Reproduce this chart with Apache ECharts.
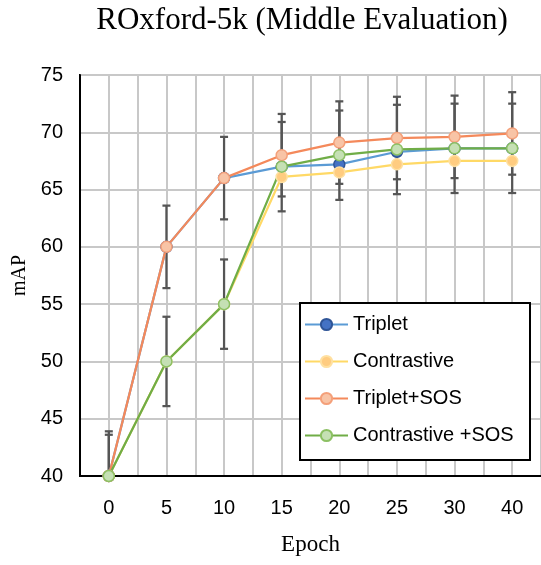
<!DOCTYPE html>
<html>
<head>
<meta charset="utf-8">
<script src="https://cdn.jsdelivr.net/npm/echarts@6/dist/echarts.min.js"></script>
<style>
  html, body { margin: 0; padding: 0; background: #fff; }
  #chart { width: 541px; height: 565px; }
</style>
</head>
<body>
<div id="chart"></div>
<script>
// x categories (epochs)
var epochs = ["0", "5", "10", "15", "20", "25", "30", "40"];

// mAP values
var triplet = [40, 60, 66, 67.0, 67.2, 68.3, 68.6, 68.6];
var contrastive = [40, 50, 55, 66.1, 66.5, 67.2, 67.5, 67.5];
var tripletSOS = [40, 60, 66, 68.0, 69.1, 69.5, 69.6, 69.9];
var contrastiveSOS = [40, 50, 55, 67.0, 68.0, 68.5, 68.6, 68.6];

// error bar half-widths
var tripletSOSErr = [3.6, 3.6, 3.6, 3.6, 3.6, 3.6, 3.6, 3.6];
var contrastiveSOSErr = [3.9, 3.9, 3.9, 3.9, 3.9, 3.9, 3.9, 3.9];

var yTicks = { min: 40, max: 75, step: 5 };

var myChart = echarts.init(document.getElementById("chart"));

function errData(vals, errs) {
  return vals.map(function (v, i) {
    return [i, v - errs[i], v + errs[i]];
  });
}

function renderErr(params, api) {
  var x = api.value(0);
  var top = api.coord([x, api.value(2)]);
  var bot = api.coord([x, api.value(1)]);
  var w = 4;
  var style = { stroke: "#555555", lineWidth: 2.25 };
  return {
    type: "group",
    children: [
      { type: "line", shape: { x1: top[0], y1: top[1], x2: bot[0], y2: bot[1] }, style: style },
      { type: "line", shape: { x1: top[0] - w, y1: top[1], x2: top[0] + w, y2: top[1] }, style: style },
      { type: "line", shape: { x1: bot[0] - w, y1: bot[1], x2: bot[0] + w, y2: bot[1] }, style: style },
    ],
  };
}

function lineSeries(name, data, lineColor, fill, border) {
  return {
    name: name,
    type: "line",
    data: data,
    z: 3,
    symbol: "circle",
    symbolSize: 11,
    lineStyle: { color: lineColor, width: 2.25 },
    itemStyle: { color: fill, borderColor: border, borderWidth: 1.5 },
    emphasis: { disabled: true },
  };
}

var option = {
  animation: false,
  title: {
    text: "ROxford-5k (Middle Evaluation)",
    left: 297,
    textAlign: "center",
    top: 0,
    textStyle: { fontFamily: "Liberation Serif", fontSize: 31, fontWeight: "normal", color: "#000" },
  },
  graphic: [
    {
      type: "rect",
      z: 5,
      shape: { x: 300, y: 303, width: 230, height: 157 },
      style: { fill: "#fff", stroke: "#000", lineWidth: 2 },
    },
  ],
  legend: {
    orient: "vertical",
    left: 304,
    top: 313,
    z: 10,
    padding: 0,
    itemGap: 14,
    itemWidth: 43,
    itemHeight: 14,
    textStyle: { fontFamily: "Liberation Sans", fontSize: 20, lineHeight: 23, color: "#000" },
    data: ["Triplet", "Contrastive", "Triplet+SOS", "Contrastive +SOS"],
  },
  grid: {
    left: 80,
    right: 0,
    top: 75,
    bottom: 89,
    outerBoundsMode: "none",
    show: true,
    borderColor: "#000",
    borderWidth: 2,
  },
  xAxis: [
    {
      type: "category",
      data: epochs,
      name: "Epoch",
      nameLocation: "middle",
      nameGap: 57,
      nameTextStyle: { fontFamily: "Liberation Serif", fontSize: 23, color: "#000" },
      axisLine: { lineStyle: { color: "#000", width: 2 } },
      axisTick: { show: false },
      axisLabel: { fontFamily: "Liberation Sans", fontSize: 20, color: "#000", margin: 22 },
      splitLine: { show: false },
    },
    {
      type: "value",
      min: 0,
      max: 8,
      interval: 0.5,
      show: true,
      axisLine: { show: false },
      axisTick: { show: false },
      axisLabel: { show: false },
      splitLine: { show: true, lineStyle: { color: "#c8c8c8", width: 2 } },
    },
  ],
  yAxis: {
    type: "value",
    min: yTicks.min,
    max: yTicks.max,
    interval: yTicks.step,
    name: "mAP",
    nameLocation: "middle",
    nameGap: 50,
    nameRotate: 90,
    nameTextStyle: { fontFamily: "Liberation Serif", fontSize: 20, color: "#000" },
    axisLine: { show: true, lineStyle: { color: "#000", width: 2 } },
    axisTick: { show: false },
    axisLabel: { fontFamily: "Liberation Sans", fontSize: 20, color: "#000", margin: 17 },
    splitLine: { show: true, lineStyle: { color: "#c8c8c8", width: 2 } },
  },
  series: [
    {
      type: "custom",
      name: "err1",
      renderItem: renderErr,
      data: errData(tripletSOS, tripletSOSErr),
      clip: true,
      z: 2,
      encode: { x: 0, y: [1, 2] },
    },
    {
      type: "custom",
      name: "err2",
      renderItem: renderErr,
      data: errData(contrastiveSOS, contrastiveSOSErr),
      clip: true,
      z: 2,
      encode: { x: 0, y: [1, 2] },
    },
    lineSeries("Triplet", triplet, "#5B9BD5", "#4472C4", "#2F5597"),
    lineSeries("Contrastive", contrastive, "#FFD966", "#FFCC80", "#FFE0A0"),
    lineSeries("Triplet+SOS", tripletSOS, "#F4895B", "#F8C4A6", "#F4A07A"),
    lineSeries("Contrastive +SOS", contrastiveSOS, "#70AD47", "#C5E0B4", "#8CC063"),
  ],
};

option && myChart.setOption(option);
</script>
</body>
</html>
